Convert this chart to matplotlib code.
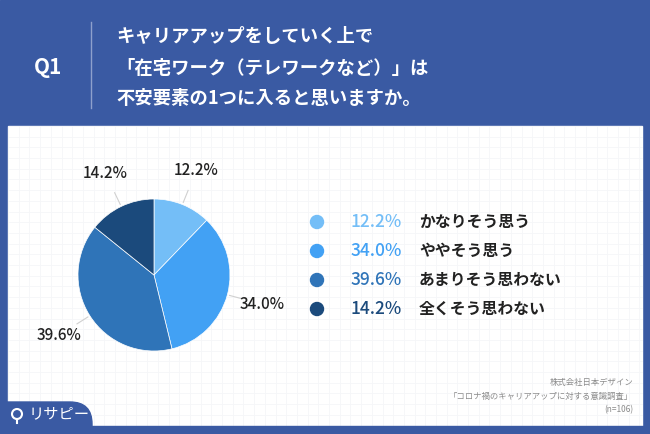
import numpy as np
import matplotlib
matplotlib.use("Agg")
from matplotlib import pyplot as plt
from matplotlib.patches import Rectangle, FancyBboxPatch, Circle

plt.rcParams['font.family'] = ['Noto Sans CJK JP', 'DejaVu Sans']

# datos
categorias = ['かなりそう思う', 'ややそう思う', 'あまりそう思わない', '全くそう思わない']
valores = [12.2, 34.0, 39.6, 14.2]
colores = ['#74BEF7', '#42A1F4', '#2F74B8', '#1B4A7C']
titulo = ['キャリアアップをしていく上で', '「在宅ワーク（テレワークなど）」は', '不安要素の1つに入ると思いますか。']
pregunta = 'Q1'
fuente = ['株式会社日本デザイン', '「コロナ禍のキャリアアップに対する意識調査」', '(n=106)']
logo = 'リサピー'

W, H = 650, 434
azul = '#3A5AA3'

fig = plt.figure(figsize=(6.5, 4.34), dpi=100)
fondo = fig.add_axes([0, 0, 1, 1])
fondo.set_xlim(0, W)
fondo.set_ylim(H, 0)
fondo.axis('off')

fondo.add_patch(Rectangle((0, 0), W, H, color=azul, zorder=0))
fondo.add_patch(Rectangle((8, 126), 634, 300, color='white', zorder=1))

# cuadricula tenue
for x in np.arange(8, 642, 10.7):
    fondo.plot([x, x], [126, 426], color='#F5F6F8', lw=0.6, zorder=1.5)
for y in np.arange(126, 426, 10.7):
    fondo.plot([8, 642], [y, y], color='#F5F6F8', lw=0.6, zorder=1.5)

# encabezado
fondo.plot([91, 91], [22, 108], color='#8EA0CC', lw=1, zorder=2)
fondo.text(48, 68, pregunta, color='white', fontsize=15, fontweight='bold',
           ha='center', va='center', zorder=3)
for i, linea in enumerate(titulo):
    fondo.text(116, 37 + i * 31, linea, color='white', fontsize=13.2, fontweight='bold',
               ha='left', va='center', zorder=3)

# leyenda
for i, (cat, v, c) in enumerate(zip(categorias, valores, colores)):
    y = 222 + i * 29
    fondo.add_patch(Circle((317, y), 6.5, color=c, zorder=3))
    fondo.text(402, y, f'{v:.1f}%', color=c, fontsize=12.5, fontweight='medium',
               ha='right', va='center', zorder=3)
    fondo.text(419, y, cat, color='#222222', fontsize=11.4, fontweight='bold',
               ha='left', va='center', zorder=3)

# fuente
for i, t in enumerate(fuente):
    fondo.text(633, 383 + i * 13.5, t, color='#8A8A8A', fontsize=6, ha='right', va='center', zorder=3)

# logo
fondo.add_patch(FancyBboxPatch((-40, 402), 132, 60, boxstyle='round,pad=0,rounding_size=22',
                               color=azul, zorder=4))
fondo.add_patch(Rectangle((0, 426), W, 8, color=azul, zorder=4))
fondo.add_patch(Circle((17, 414), 5, facecolor='none', edgecolor='white', lw=1.5, zorder=5))
fondo.plot([17, 17], [419, 423], color='white', lw=1.5, zorder=5)
fondo.text(29, 414, logo, color='white', fontsize=11, ha='left', va='center', zorder=5)

# grafico de torta
cx, cy, r = 154, 275, 76
ax = fig.add_axes([(cx - r) / W, (H - cy - r) / H, 2 * r / W, 2 * r / H])
wedges, _ = ax.pie(valores, colors=colores, startangle=90, counterclock=False,
                   wedgeprops=dict(linewidth=0.5, edgecolor='white'))
ax.set_xlim(-1, 1)
ax.set_ylim(-1, 1)
ax.axis('off')
for w, v in zip(wedges, valores):
    ang = np.deg2rad((w.theta1 + w.theta2) / 2)
    ca, sa = np.cos(ang), np.sin(ang)
    ax.plot([1.03 * ca, 1.2 * ca], [1.03 * sa, 1.2 * sa], color='#D0D0D0', lw=0.8, clip_on=False)
    ax.text(1.48 * ca, 1.48 * sa, f'{v:.1f}%', fontsize=11, fontweight='medium', color='#222222',
            ha='center', va='center', clip_on=False)

fig.savefig('out.png', dpi=100)
